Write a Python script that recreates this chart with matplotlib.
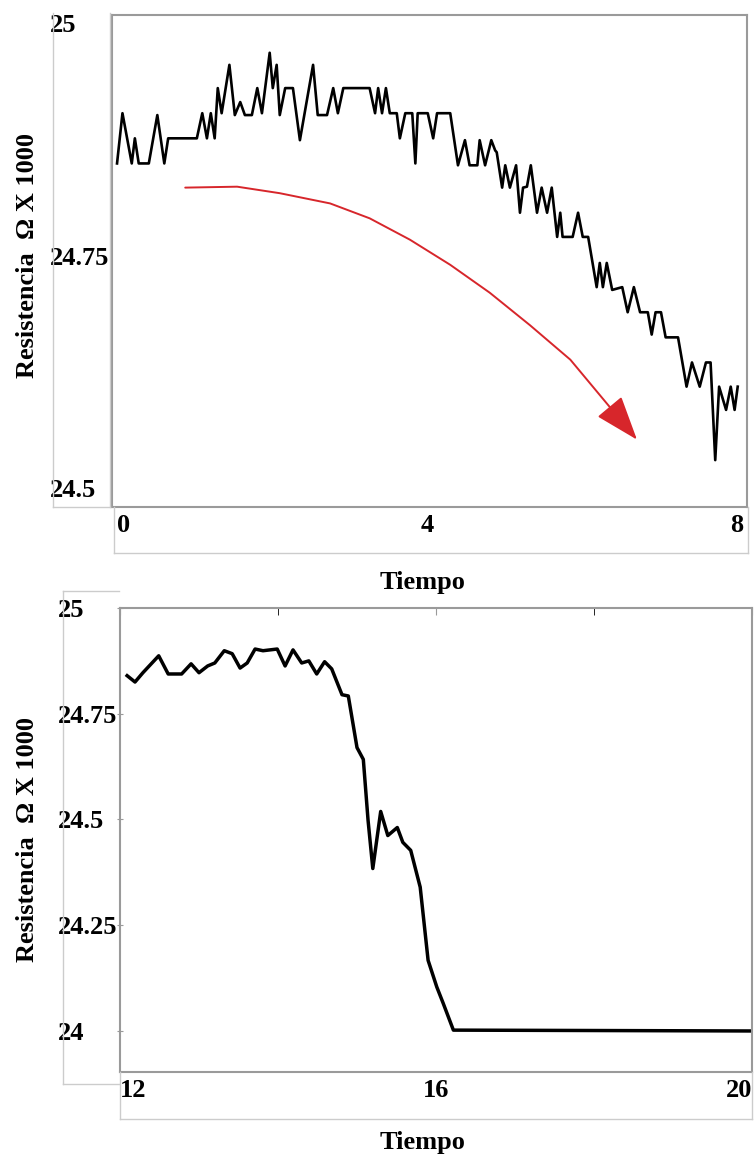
import matplotlib.pyplot as plt
from matplotlib.patches import FancyArrowPatch
from matplotlib.path import Path
from matplotlib.lines import Line2D

plt.rcParams['font.family'] = ['Liberation Serif', 'DejaVu Serif']
plt.rcParams['font.weight'] = 'bold'

# panel 1: resistance over time (0-8)
t1 = [0.00, 0.07, 0.19, 0.23, 0.28, 0.41, 0.52, 0.61, 0.66, 1.03, 1.10, 1.16, 1.21, 1.26,
      1.30, 1.35, 1.45, 1.52, 1.59, 1.65, 1.74, 1.81, 1.87, 1.97, 2.01, 2.06, 2.10, 2.17,
      2.27, 2.36, 2.53, 2.59, 2.71, 2.79, 2.85, 2.92, 3.26, 3.33, 3.37, 3.42, 3.47, 3.52,
      3.61, 3.65, 3.72, 3.81, 3.85, 3.88, 4.01, 4.08, 4.13, 4.30, 4.40, 4.49, 4.55, 4.65,
      4.68, 4.75, 4.83, 4.88, 4.90, 4.97, 5.01, 5.07, 5.15, 5.20, 5.24, 5.29, 5.34, 5.42,
      5.48, 5.55, 5.61, 5.68, 5.72, 5.75, 5.88, 5.95, 6.01, 6.08, 6.19, 6.23, 6.27, 6.32,
      6.39, 6.52, 6.59, 6.67, 6.75, 6.85, 6.90, 6.95, 7.02, 7.08, 7.24, 7.35, 7.42, 7.52,
      7.60, 7.66, 7.72, 7.77, 7.86, 7.92, 7.97, 8.01]
r1 = [24.849, 24.903, 24.849, 24.876, 24.849, 24.849, 24.901, 24.849, 24.876, 24.876, 24.903,
      24.876, 24.903, 24.876, 24.930, 24.903, 24.955, 24.901, 24.915, 24.901, 24.901, 24.930,
      24.903, 24.968, 24.930, 24.955, 24.901, 24.930, 24.930, 24.874, 24.955, 24.901, 24.901,
      24.930, 24.903, 24.930, 24.930, 24.903, 24.930, 24.903, 24.930, 24.903, 24.903, 24.876,
      24.903, 24.903, 24.849, 24.903, 24.903, 24.876, 24.903, 24.903, 24.847, 24.874, 24.847,
      24.847, 24.874, 24.847, 24.874, 24.863, 24.861, 24.823, 24.847, 24.823, 24.847, 24.796,
      24.823, 24.824, 24.847, 24.796, 24.823, 24.796, 24.823, 24.770, 24.796, 24.770, 24.770,
      24.796, 24.770, 24.770, 24.716, 24.742, 24.716, 24.742, 24.713, 24.716, 24.689, 24.716,
      24.689, 24.689, 24.665, 24.689, 24.689, 24.662, 24.662, 24.609, 24.635, 24.609, 24.635,
      24.635, 24.530, 24.609, 24.584, 24.609, 24.584, 24.609]

# red trend arrow drawn over panel 1
trend_t = [0.88, 1.55, 2.10, 2.75, 3.26, 3.78, 4.30, 4.81, 5.33, 5.85, 6.71]
trend_r = [24.823, 24.824, 24.817, 24.806, 24.790, 24.767, 24.740, 24.710, 24.675, 24.638, 24.552]

# panel 2: resistance over time (12-20)
t2 = [12.09, 12.19, 12.29, 12.49, 12.61, 12.78, 12.90, 13.00, 13.11, 13.20, 13.32, 13.42,
      13.52, 13.61, 13.71, 13.81, 13.99, 14.09, 14.19, 14.30, 14.39, 14.49, 14.59, 14.68,
      14.81, 14.89, 15.00, 15.08, 15.14, 15.20, 15.30, 15.39, 15.51, 15.58, 15.68, 15.80,
      15.90, 16.01, 16.09, 16.22, 20.00]
r2 = [24.840, 24.825, 24.847, 24.887, 24.844, 24.844, 24.868, 24.847, 24.863, 24.870, 24.899,
      24.892, 24.858, 24.870, 24.903, 24.899, 24.903, 24.863, 24.901, 24.870, 24.875, 24.844,
      24.873, 24.856, 24.795, 24.792, 24.670, 24.642, 24.498, 24.384, 24.519, 24.462, 24.481,
      24.446, 24.427, 24.340, 24.167, 24.104, 24.066, 24.002, 24.000]

W, H = 754, 1159
fig = plt.figure(figsize=(W / 100, H / 100), dpi=100)
FS = 19
frame = '#9a9a9a'
faint = '#cccccc'


def box_line(x0, y0, x1, y1):
    fig.add_artist(Line2D([x0 / W, x1 / W], [1 - y0 / H, 1 - y1 / H], color=faint, lw=1))


# ---- top panel
ax1 = fig.add_axes([112 / W, 1 - 507 / H, 635 / W, 492 / H])
ax1.plot(t1, r1, color='black', lw=1.9, solid_joinstyle='round')
arrow = FancyArrowPatch(path=Path(list(zip(trend_t, trend_r))),
                        arrowstyle='-|>,head_length=1.4,head_width=0.5',
                        mutation_scale=20, color='#d7262b', lw=1.4)
ax1.add_patch(arrow)
ax1.set_xlim(-0.065, 8.13)
ax1.set_ylim(24.4796, 25.0086)
ax1.set_xticks([0, 4, 8])
ax1.set_yticks([25, 24.75, 24.5])
ax1.set_yticklabels(['25', '24.75', '24.5'])
ax1.tick_params(length=0, labelsize=FS)
ax1.tick_params(axis='y', pad=45)
ax1.tick_params(axis='x', pad=5)
plt.setp(ax1.get_yticklabels(), ha='left')
ax1.get_xticklabels()[0].set_ha('left')
for s in ax1.spines.values():
    s.set_color(frame)
    s.set_linewidth(1.5)

box_line(53, 13, 53, 507)
box_line(110, 13, 110, 507)
box_line(53, 507, 110, 507)
box_line(114, 507, 114, 553)
box_line(748, 507, 748, 553)
box_line(114, 553, 748, 553)

fig.text(28 / W, 1 - 256 / H, 'Resistencia  Ω X 1000', rotation=90, ha='center', va='center',
         fontsize=FS, fontweight='bold')
fig.text(422 / W, 1 - 582 / H, 'Tiempo', ha='center', va='center', fontsize=FS, fontweight='bold')

# ---- bottom panel
ax2 = fig.add_axes([120 / W, 1 - 1072 / H, 632 / W, 464 / H])
ax2.plot(t2, r2, color='black', lw=2.5, solid_joinstyle='round')
ax2.set_xlim(12, 20)
ax2.set_ylim(23.903, 25.0)
ax2.set_xticks([12, 16, 20])
ax2.set_xticks([14, 18], minor=True)
ax2.set_yticks([25, 24.75, 24.5, 24.25, 24])
ax2.set_yticklabels(['25', '24.75', '24.5', '24.25', '24'])
ax2.tick_params(labelsize=FS, color=frame)
ax2.tick_params(axis='x', which='both', bottom=False, top=True, direction='in', length=5, pad=5)
ax2.tick_params(axis='y', direction='inout', length=5, pad=42)
plt.setp(ax2.get_yticklabels(), ha='left')
xl = ax2.get_xticklabels()
xl[0].set_ha('left')
xl[-1].set_ha('right')
for s in ax2.spines.values():
    s.set_color(frame)
    s.set_linewidth(1.5)

box_line(63, 591, 119, 591)
box_line(63, 591, 63, 1084)
box_line(63, 1084, 119, 1084)
box_line(120, 1072, 120, 1119)
box_line(752, 1072, 752, 1119)
box_line(120, 1119, 752, 1119)

fig.text(28 / W, 1 - 840 / H, 'Resistencia  Ω X 1000', rotation=90, ha='center', va='center',
         fontsize=FS, fontweight='bold')
fig.text(422 / W, 1 - 1143 / H, 'Tiempo', ha='center', va='center', fontsize=FS, fontweight='bold')

fig.savefig('out.png', dpi=100)
